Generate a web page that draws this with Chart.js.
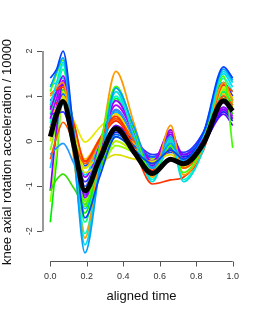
<!DOCTYPE html>
<html>
<head>
<meta charset="utf-8">
<script src="https://cdn.jsdelivr.net/npm/chart.js@4.4.1/dist/chart.umd.min.js"></script>
<style>
  html, body { margin: 0; padding: 0; background: #fff; }
  #wrap { width: 262px; height: 314px; }
</style>
</head>
<body>
<div id="wrap"><canvas id="myChart" width="262" height="314"></canvas></div>
<script>
// sample times along the aligned time axis
var times = [0, 0.035, 0.07, 0.13, 0.19, 0.27, 0.36, 0.46, 0.56, 0.66, 0.73, 0.84, 0.95, 1.0];

// thick black mean curve
var meanCurve = [0.1, 0.6, 0.88, -0.1, -1.1, -0.4, 0.28, -0.25, -0.72, -0.4, -0.5, -0.05, 0.9, 0.67];

// individual curves (values / 10000)
var curves = [
  [1.4, 1.6, 2.0, 0.15, -1.7, -0.8, 0.1, -0.2, -0.5, -0.2, -0.4, 0.2, 1.65, 1.4],
  [1.2, 1.55, 1.85, -0.3, -2.48, -0.65, 1.18, 0.3, -0.6, -0.05, -0.45, 0.17, 1.6, 1.35],
  [0.8, 1.3, 1.75, -0.28, -2.3, -0.6, 1.1, 0.1, -0.9, 0.0, -0.9, -0.17, 1.55, 1.3],
  [1.1, 1.5, 1.8, 0.18, -1.45, -0.12, 1.22, 0.24, -0.75, -0.1, -0.7, -0.05, 1.45, -0.15],
  [1.0, 1.2, 1.3, -0.42, -2.15, -0.3, 1.55, 0.38, -0.8, 0.35, -0.75, -0.13, 1.3, 0.9],
  [1.05, 1.15, 1.2, 0.38, -0.45, 0.05, 0.55, -0.2, -0.95, -0.86, -0.8, -0.2, 1.25, 1.1],
  [-0.4, 0.1, 0.42, -0.04, -0.5, 0.0, 0.5, 0.0, -0.5, -0.2, -0.6, -0.12, 1.0, 0.8],
  [-0.3, -0.15, -0.05, -0.5, -1.0, -0.15, 0.7, 0.05, -0.6, 0.1, -0.5, -0.05, 1.0, 0.7],
  [-1.1, -0.85, -0.73, -1.05, -1.4, -0.65, 0.1, -0.2, -0.5, -0.1, -0.4, 0.0, 0.9, 0.6],
  [0.3, 0.6, 0.9, 0.45, -0.02, 0.3, 0.6, 0.0, -0.6, -0.1, -0.6, -0.05, 1.2, 0.95],
  [0.0, 0.5, 1.0, 0.15, -0.7, -0.5, -0.3, -0.4, -0.45, -0.3, -0.55, -0.1, 0.95, 0.75],
  [0.7, 1.1, 1.45, 0.1, -1.25, -0.18, 0.9, 0.2, -0.5, 0.25, -0.45, 0.05, 0.85, 0.6],
  [-1.1, 0.3, 1.3, 0.05, -1.2, -0.25, 0.7, 0.08, -0.55, 0.15, -0.3, 0.0, 0.7, 0.5],
  [0.5, 0.95, 1.35, 0.18, -1.0, -0.1, 0.8, 0.18, -0.45, 0.2, -0.4, -0.05, 0.75, 0.55],
  [0.6, 0.62, 0.65, -0.12, -0.9, -0.3, 0.3, 0.0, -0.3, -0.2, -0.25, 0.2, 1.3, 1.0],
  [0.3, 0.7, 1.05, 0.0, -1.1, -0.45, 0.15, -0.1, -0.35, -0.15, -0.3, 0.2, 1.3, 0.9],
  [-1.35, -0.2, 0.95, -0.2, -1.3, -0.7, -0.1, -0.25, -0.4, -0.1, -0.5, 0.0, 1.15, 0.9],
  [0.0, 0.55, 1.1, 0.25, -0.6, -0.3, 0.0, -0.25, -0.5, -0.2, -0.6, -0.05, 1.2, 0.95],
  [0.4, 1.05, 1.7, -0.17, -2.05, -0.5, 1.0, 0.08, -0.85, 0.1, -0.85, -0.15, 1.4, 1.1],
  [0.6, 1.1, 1.6, -0.1, -1.8, -0.3, 1.2, 0.25, -0.7, 0.0, -0.6, -0.1, 1.1, 0.8],
  [0.8, 1.0, 1.2, 0.3, -0.6, 0.0, 0.6, -0.05, -0.7, -0.05, -0.6, -0.1, 1.15, 0.85],
  [0.5, 0.75, 1.0, 0.3, -0.4, 0.05, 0.5, -0.05, -0.6, -0.1, -0.55, -0.1, 1.05, 0.8],
  [0.8, 0.85, 0.9, 0.22, -0.45, 0.0, 0.45, -0.1, -0.65, -0.2, -0.5, -0.05, 1.1, 0.85],
  [-0.6, 0.15, 0.85, -0.32, -1.5, -0.42, 0.65, 0.02, -0.6, 0.05, -0.5, 0.0, 1.2, 0.9],
  [0.2, 0.55, 0.9, -0.2, -1.3, -0.55, 0.2, -0.12, -0.45, -0.2, -0.35, -0.05, 0.65, 0.45],
  [0.75, 1.0, 1.25, 0.05, -1.15, -0.4, 0.35, 0.0, -0.4, -0.1, -0.35, -0.05, 0.6, 0.35],
  [-1.8, -0.4, 1.15, -0.22, -1.6, -0.32, 0.95, 0.18, -0.6, 0.0, -0.55, -0.1, 1.0, 0.75],
  [-0.2, 0.4, 1.0, -0.18, -1.35, -0.7, 0.0, -0.22, -0.45, -0.15, -0.45, 0.05, 1.25, 1.0],
  [1.25, 1.3, 1.4, 0.32, -0.75, 0.0, 0.7, 0.08, -0.55, 0.0, -0.5, 0.1, 1.5, 1.2],
  [0.3, 0.8, 1.3, 0.25, -0.8, -0.1, 0.6, 0.08, -0.45, 0.1, -0.4, -0.05, 0.7, 0.5],
  [0.9, 1.1, 1.3, 0.38, -0.55, -0.15, 0.25, -0.05, -0.35, -0.25, -0.3, 0.05, 0.75, 0.6]
];

var curveColors = [
  "#0040FF", "#00A0FF", "#00E0E0", "#40FF00", "#FF9900", "#FF3300", "#FF5500", "#2299FF",
  "#33DD00", "#E8E800", "#DDDD00", "#9900FF", "#8000FF", "#B000FF", "#3030FF", "#0066FF",
  "#99FF00", "#CCEE00", "#00FFCC", "#00FF66", "#FFAA00", "#FFC000", "#FF2200", "#00BBFF",
  "#1A1AFF", "#6600FF", "#00EE00", "#77FF00", "#00D5FF", "#A000FF", "#0050FF"
];

var xTicks = [0, 0.2, 0.4, 0.6, 0.8, 1.0];
var yTicks = [-2, -1, 0, 1, 2];

var xTitle = "aligned time";
var yTitle = "knee axial rotation acceleration / 10000";

function toPoints(vals) {
  return vals.map(function (v, i) { return { x: times[i], y: v }; });
}

// black first so it is drawn on top
var datasets = [{
  data: toPoints(meanCurve),
  borderColor: "#000000",
  borderWidth: 5
}];
curves.forEach(function (c, i) {
  datasets.push({
    data: toPoints(c),
    borderColor: curveColors[i % curveColors.length],
    borderWidth: 1.7
  });
});

var rAxes = {
  id: "rAxes",
  afterDraw: function (chart) {
    var ctx = chart.ctx;
    var xs = chart.scales.x, ys = chart.scales.y;
    var a = chart.chartArea;
    ctx.save();
    ctx.strokeStyle = "#555";
    ctx.lineWidth = 1;
    ctx.fillStyle = "#333";
    ctx.font = "9px 'Liberation Sans', Arial, sans-serif";

    // x axis
    var yb = Math.round(a.bottom) + 0.5;
    ctx.beginPath();
    ctx.moveTo(xs.getPixelForValue(xTicks[0]), yb);
    ctx.lineTo(xs.getPixelForValue(xTicks[xTicks.length - 1]), yb);
    xTicks.forEach(function (t) {
      var px = Math.round(xs.getPixelForValue(t)) + 0.5;
      ctx.moveTo(px, yb);
      ctx.lineTo(px, yb + 5);
    });
    ctx.stroke();
    ctx.textAlign = "center";
    ctx.textBaseline = "middle";
    xTicks.forEach(function (t) {
      ctx.fillText(t.toFixed(1), xs.getPixelForValue(t), a.bottom + 16);
    });

    // y axis (drawn a bit wider and lighter like the reference)
    var xl = Math.round(a.left);
    ctx.strokeStyle = "#999";
    ctx.lineWidth = 2;
    ctx.beginPath();
    ctx.moveTo(xl, ys.getPixelForValue(yTicks[0]));
    ctx.lineTo(xl, ys.getPixelForValue(yTicks[yTicks.length - 1]));
    ctx.stroke();
    ctx.strokeStyle = "#555";
    ctx.lineWidth = 1;
    ctx.beginPath();
    yTicks.forEach(function (t) {
      var py = Math.round(ys.getPixelForValue(t)) + 0.5;
      ctx.moveTo(xl - 1, py);
      ctx.lineTo(xl - 6, py);
    });
    ctx.stroke();
    yTicks.forEach(function (t) {
      ctx.save();
      ctx.translate(a.left - 13, ys.getPixelForValue(t));
      ctx.rotate(-Math.PI / 2);
      ctx.fillText(String(t), 0, 0);
      ctx.restore();
    });

    // titles
    ctx.fillStyle = "#111";
    ctx.font = "13px 'Liberation Sans', Arial, sans-serif";
    ctx.fillText(xTitle, (a.left + a.right) / 2, 296);
    ctx.save();
    ctx.translate(7, 152);
    ctx.rotate(-Math.PI / 2);
    ctx.fillText(yTitle, 0, 0);
    ctx.restore();
    ctx.restore();
  }
};

var myChart = new Chart(document.getElementById("myChart"), {
  type: "line",
  data: { datasets: datasets },
  options: {
    responsive: false,
    animation: false,
    devicePixelRatio: 1,
    layout: { padding: { left: 43, right: 22, top: 43, bottom: 53 } },
    elements: {
      point: { radius: 0 },
      line: { cubicInterpolationMode: "monotone", fill: false }
    },
    plugins: { legend: { display: false }, tooltip: { enabled: false } },
    scales: {
      x: { type: "linear", min: -0.04, max: 1.04, display: false },
      y: { type: "linear", min: -2.66, max: 2.18, display: false }
    }
  },
  plugins: [rAxes]
});
</script>
</body>
</html>
